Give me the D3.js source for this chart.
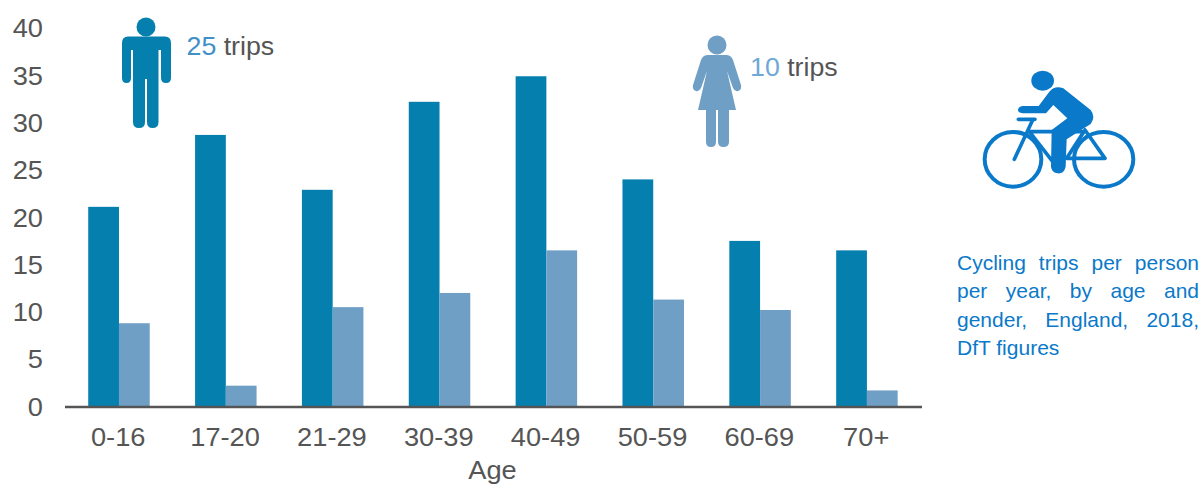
<!DOCTYPE html>
<html>
<head>
<meta charset="utf-8">
<script src="https://cdn.jsdelivr.net/npm/d3@7"></script>
<style>
  html, body { margin: 0; padding: 0; background: #fff; }
  svg { display: block; }
  text { font-family: "Liberation Sans", Arial, sans-serif; }
</style>
</head>
<body>
<svg id="chart" width="1203" height="484"></svg>
<script>
// Cycling trips per person per year by age band and gender
const ageBands = ["0-16", "17-20", "21-29", "30-39", "40-49", "50-59", "60-69", "70+"];
const maleTrips = [21.1, 28.7, 22.9, 32.2, 34.9, 24.0, 17.5, 16.5];
const femaleTrips = [8.8, 2.2, 10.5, 12.0, 16.5, 11.3, 10.2, 1.7];
const yTickValues = [0, 5, 10, 15, 20, 25, 30, 35, 40];
const captionLines = ["Cycling trips per person", "per year, by age and", "gender, England, 2018,", "DfT figures"];

const MALE = "#0580ae", FEMALE = "#709fc6", INK = "#555555", BLUE = "#0b79c9";

const svg = d3.select("#chart");
const x = d3.scaleBand().domain(ageBands).range([64.8, 919.6]);
const y = d3.scaleLinear().domain([0, 40]).range([406.5, 28]);
const groupWidth = 61.5;
const sub = d3.scaleBand().domain(["m", "f"]).range([0, groupWidth]);

// The source type is slightly wider than the font's natural proportions
function widen(sel, factor) {
  sel.each(function () {
    const len = this.getComputedTextLength();
    d3.select(this).attr("textLength", len * factor).attr("lengthAdjust", "spacingAndGlyphs");
  });
}

// Bars: one pair per age band
const groups = svg.append("g").selectAll("g").data(ageBands).join("g")
  .attr("transform", d => `translate(${x(d) + x.bandwidth() / 2 - 30},0)`);
groups.append("rect").attr("fill", MALE)
  .attr("x", sub("m")).attr("width", sub.bandwidth())
  .attr("y", (d, i) => y(maleTrips[i])).attr("height", (d, i) => y(0) - y(maleTrips[i]));
groups.append("rect").attr("fill", FEMALE)
  .attr("x", sub("f")).attr("width", sub.bandwidth())
  .attr("y", (d, i) => y(femaleTrips[i])).attr("height", (d, i) => y(0) - y(femaleTrips[i]));

// Axes
const yAxis = svg.append("g").attr("transform", "translate(43,0)")
  .call(d3.axisLeft(y).tickValues(yTickValues).tickSize(0).tickPadding(0));
yAxis.select(".domain").remove();
yAxis.selectAll("text").attr("font-size", 25).attr("fill", INK).attr("dy", "0.35em")
  .style("font-family", '"Liberation Sans", Arial, sans-serif').call(widen, 1.09);

const xAxis = svg.append("g").attr("transform", "translate(0,407)")
  .call(d3.axisBottom(x).tickSize(0).tickPadding(0));
xAxis.select(".domain").remove();
xAxis.selectAll("text").attr("font-size", 25).attr("fill", INK).attr("y", 38.5).attr("dy", 0)
  .style("font-family", '"Liberation Sans", Arial, sans-serif').call(widen, 1.09);
svg.append("line").attr("x1", 65).attr("x2", 922).attr("y1", 407).attr("y2", 407)
  .attr("stroke", INK).attr("stroke-width", 2.4);

svg.append("text").text("Age").attr("x", 492.5).attr("y", 478.5)
  .attr("text-anchor", "middle").attr("font-size", 25).attr("fill", INK).call(widen, 1.09);

// Man pictogram
const man = svg.append("g").attr("fill", MALE);
man.append("circle").attr("cx", 146).attr("cy", 27).attr("r", 9.5);
man.append("path").attr("d",
  "M128,36.5 H165 Q171,36.5 171,43 V78 Q171,83 166,83 Q161,83 161,78 V50 H158.500 V122 Q158.500,128 152.500,128 Q147,128 147,122 V79 H145 V122 Q145,128 139,128 Q133,128 133,122 V50 H131 V78 Q131,83 126.500,83 Q122,83 122,78 V43 Q122,36.5 128,36.5 Z");
svg.append("text").attr("x", 186.500).attr("y", 55).attr("font-size", 25)
  .call(t => t.append("tspan").attr("fill", "#3f90c6").text("25"))
  .call(t => t.append("tspan").attr("fill", INK).text(" trips"))
  .call(widen, 1.07);

// Woman pictogram
const woman = svg.append("g").attr("fill", FEMALE);
woman.append("circle").attr("cx", 717).attr("cy", 45).attr("r", 9.5);
woman.append("path").attr("d",
  "M708,55 H726 Q731,55 733,60 L741,85 Q742,90 738,91 Q735,92 733,88 L727,71 L736,110 H729 V142 Q729,147 723.500,147 Q718,147 718,142 V110 H716 V142 Q716,147 711,147 Q706,147 706,142 V110 H698 L707,71 L701,88 Q699,92 696,91 Q692,90 693,85 L701,60 Q703,55 708,55 Z");
svg.append("text").attr("x", 750).attr("y", 76).attr("font-size", 25)
  .call(t => t.append("tspan").attr("fill", "#6fa8d8").text("10"))
  .call(t => t.append("tspan").attr("fill", INK).text(" trips"))
  .call(widen, 1.07);

// Cyclist pictogram, laid out in a 3x coordinate system
const bike = svg.append("g").attr("transform", "translate(960,50) scale(0.3333)");
bike.append("ellipse").attr("cx", 248).attr("cy", 92).attr("rx", 34).attr("ry", 30).attr("fill", BLUE);
const wheels = [[159, 328, 85, 82], [431, 328, 89, 82]];
bike.selectAll("ellipse.wheel").data(wheels).join("ellipse").attr("class", "wheel")
  .attr("cx", d => d[0]).attr("cy", d => d[1]).attr("rx", d => d[2]).attr("ry", d => d[3])
  .attr("fill", "none").attr("stroke", BLUE).attr("stroke-width", 12);
bike.append("path").attr("fill", "none").attr("stroke", BLUE).attr("stroke-width", 11)
  .attr("stroke-linecap", "round").attr("stroke-linejoin", "round")
  .attr("d", "M175,208 H225 M218,210 L163,328 M208,245 H375 M208,245 L290,350 M375,240 L320,325 M375,240 L435,325 H320");
// Rider silhouette: back, thigh, shin, then arm
bike.append("path").attr("fill", BLUE).attr("d",
  "M268,125 Q285,105 310,115 L392,180 Q408,200 392,222 L320,268 L317,350 Q312,372 293,370 Q275,368 273,350 L275,240 L322,205 L280,165 L258,190 H188 Q174,188 174,180 Q175,170 188,168 H236 Z");

// Caption: justified lines except the last
const caption = svg.append("g").attr("fill", BLUE).attr("font-size", 21);
captionLines.forEach((line, i) => {
  const t = caption.append("text").attr("x", 957).attr("y", 270 + i * 28.4).text(line);
  const natural = t.node().getComputedTextLength();
  if (i < captionLines.length - 1) {
    const gaps = line.split(" ").length - 1;
    t.style("word-spacing", (242 - natural) / gaps + "px");
  }
});
</script>
</body>
</html>
